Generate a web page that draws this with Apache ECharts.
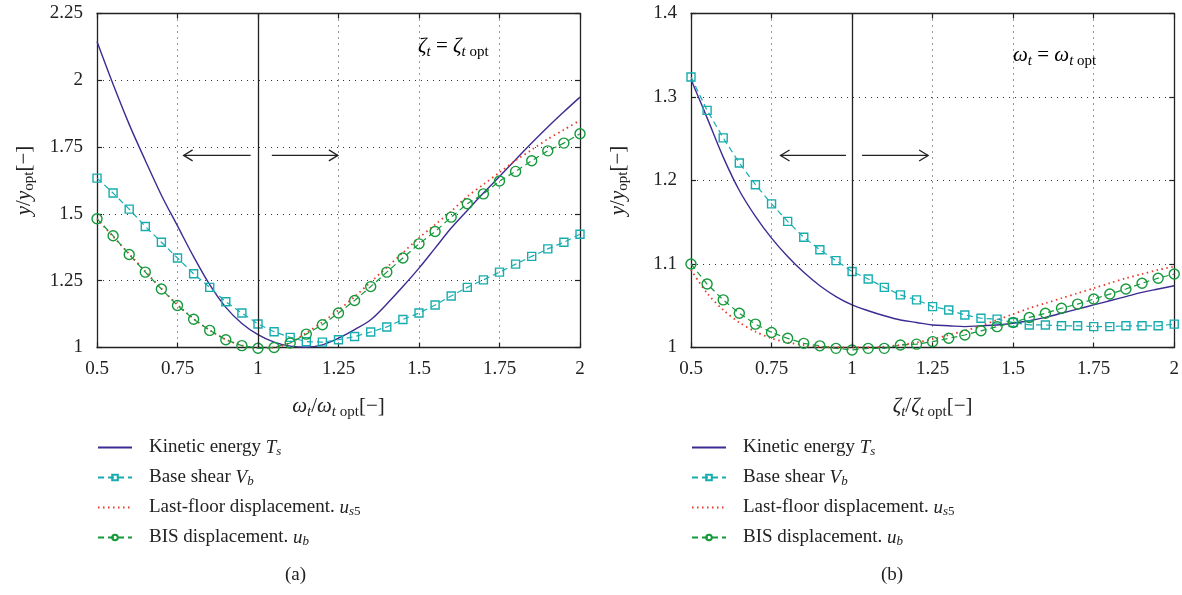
<!DOCTYPE html>
<html><head><meta charset="utf-8">
<script src="https://cdn.jsdelivr.net/npm/echarts@6/dist/echarts.min.js"></script>
<style>html,body{margin:0;padding:0;background:#fff}#c{width:1182px;height:595px}</style>
</head><body><div id="c"></div>
<script>
// x values (ratio to optimum), shared by both panels
const xs = [0.5,0.55,0.6,0.65,0.7,0.75,0.8,0.85,0.9,0.95,1.0,1.05,1.1,1.15,1.2,1.25,1.3,1.35,1.4,1.45,1.5,1.55,1.6,1.65,1.7,1.75,1.8,1.85,1.9,1.95,2.0];

// Panel (a): zeta_t = zeta_t,opt, x = omega_t/omega_t,opt
const aKinetic = [2.145,1.985,1.835,1.70,1.57,1.455,1.34,1.235,1.15,1.09,1.048,1.02,1.005,1.001,1.01,1.035,1.067,1.104,1.163,1.228,1.297,1.372,1.447,1.513,1.578,1.64,1.703,1.765,1.825,1.882,1.937];
const aBaseShear = [1.634,1.578,1.518,1.453,1.394,1.335,1.276,1.225,1.171,1.129,1.088,1.059,1.038,1.022,1.020,1.029,1.041,1.058,1.077,1.105,1.129,1.159,1.193,1.225,1.253,1.282,1.312,1.341,1.369,1.394,1.424];
const aLastFloor = [1.482,1.415,1.35,1.285,1.22,1.16,1.108,1.065,1.03,1.008,0.998,1.0,1.018,1.055,1.095,1.14,1.19,1.245,1.30,1.355,1.41,1.46,1.51,1.565,1.61,1.655,1.70,1.74,1.78,1.815,1.85];
const aBIS = [1.482,1.418,1.348,1.282,1.219,1.157,1.106,1.064,1.029,1.007,0.997,1.0,1.017,1.05,1.085,1.129,1.176,1.228,1.282,1.335,1.388,1.434,1.488,1.538,1.575,1.623,1.659,1.699,1.736,1.765,1.800];

// Panel (b): omega_t = omega_t,opt, x = zeta_t/zeta_t,opt
const bKinetic = [1.321,1.275,1.228,1.188,1.157,1.131,1.109,1.09,1.074,1.061,1.051,1.044,1.038,1.033,1.03,1.027,1.026,1.025,1.026,1.027,1.029,1.032,1.036,1.041,1.046,1.051,1.056,1.061,1.066,1.07,1.074];
const bBaseShear = [1.324,1.284,1.251,1.221,1.195,1.172,1.151,1.132,1.117,1.104,1.091,1.082,1.072,1.063,1.057,1.049,1.045,1.039,1.035,1.034,1.030,1.027,1.027,1.026,1.026,1.025,1.025,1.026,1.026,1.026,1.028];
const bLastFloor = [1.093,1.065,1.045,1.030,1.019,1.011,1.006,1.003,1.001,1.000,1.000,1.000,1.001,1.003,1.006,1.010,1.015,1.020,1.026,1.033,1.040,1.047,1.053,1.059,1.065,1.071,1.077,1.083,1.088,1.093,1.097];
const bBIS = [1.100,1.076,1.057,1.041,1.028,1.018,1.011,1.005,1.002,0.999,0.997,0.999,0.999,1.003,1.004,1.007,1.011,1.015,1.020,1.025,1.030,1.036,1.041,1.047,1.052,1.058,1.064,1.070,1.077,1.083,1.088];

const seriesNames = ['Kinetic energy','Base shear','Last-floor displacement','BIS displacement'];
const xTicksA = {min:0.5,max:2,interval:0.25};
const yTicksA = {min:1,max:2.25,interval:0.25};
const xTicksB = {min:0.5,max:2,interval:0.25};
const yTicksB = {min:1,max:1.4,interval:0.1};

const FONT = 'Liberation Serif';
const C_BLUE = '#3b2c93', C_TEAL = '#17adb0', C_RED = '#e8392b', C_GREEN = '#15993b';
const INK = '#222';

function mkRich(fs, ss, lh){
  return {
    n:{fontFamily:FONT,fontSize:fs,color:INK,lineHeight:lh},
    i:{fontFamily:FONT,fontSize:fs,color:INK,fontStyle:'italic',lineHeight:lh},
    sub:{fontFamily:FONT,fontSize:ss,color:INK,fontStyle:'italic',lineHeight:Math.round(ss*0.75),verticalAlign:'bottom'},
    subr:{fontFamily:FONT,fontSize:ss,color:INK,lineHeight:Math.round(ss*0.75),verticalAlign:'bottom'}
  };
}
const richLegend = mkRich(19,13,22);
const richName = mkRich(21,15,26);
const legendLabels = {
  'Kinetic energy':'{n|Kinetic energy }{i|T}{sub|s}',
  'Base shear':'{n|Base shear }{i|V}{sub|b}',
  'Last-floor displacement':'{n|Last-floor displacement. }{i|u}{sub|s}{subr|5}',
  'BIS displacement':'{n|BIS displacement. }{i|u}{sub|b}'
};

function pairs(vals){ return xs.map((x,k)=>[x,vals[k]]); }

function makeSeries(g, kin, vb, us, ub){
  const base = {type:'line', xAxisIndex:2*g, yAxisIndex:2*g, clip:false, animation:false};
  return [
    Object.assign({}, base, {name:seriesNames[0], data:pairs(kin), smooth:0.35, showSymbol:false, symbol:'none',
      itemStyle:{color:C_BLUE}, lineStyle:{color:C_BLUE,width:1.4},
      markLine:{silent:true,symbol:'none',label:{show:false},animation:false,
        lineStyle:{color:INK,type:'solid',width:1.3}, data:[{xAxis:1}]}}),
    Object.assign({}, base, {name:seriesNames[1], data:pairs(vb), symbol:'rect', symbolSize:8,
      itemStyle:{color:'rgba(255,255,255,0)',borderColor:C_TEAL,borderWidth:1.4},
      lineStyle:{color:C_TEAL,width:1.2,type:[6,4]}}),
    Object.assign({}, base, {name:seriesNames[2], data:pairs(us), smooth:0.3, showSymbol:false, symbol:'none',
      itemStyle:{color:C_RED}, lineStyle:{color:C_RED,width:1.8,type:[1.5,3.5]}}),
    Object.assign({}, base, {name:seriesNames[3], data:pairs(ub), symbol:'circle', symbolSize:10,
      itemStyle:{color:'rgba(255,255,255,0)',borderColor:C_GREEN,borderWidth:1.4},
      lineStyle:{color:C_GREEN,width:1.2,type:[6,4]}})
  ];
}

function xAxes(g, t, nameRich){
  return [
    {gridIndex:g, type:'value', min:t.min, max:t.max, interval:t.interval, position:'bottom',
      axisLine:{lineStyle:{color:INK,width:1.3}}, axisTick:{inside:true,length:5,lineStyle:{color:INK,width:1.2}},
      axisLabel:{margin:12,fontFamily:FONT,fontSize:19,color:INK},
      splitLine:{show:true,lineStyle:{color:'#333',type:[1,5],width:1}},
      name:nameRich, nameLocation:'middle', nameGap:46, nameTextStyle:{rich:richName}},
    {gridIndex:g, type:'value', min:t.min, max:t.max, interval:t.interval, position:'top',
      axisLine:{lineStyle:{color:INK,width:1.3}}, axisTick:{inside:true,length:5,lineStyle:{color:INK,width:1.2}},
      axisLabel:{show:false}, splitLine:{show:false}}
  ];
}
function yAxes(g, t){
  return [
    {gridIndex:g, type:'value', min:t.min, max:t.max, interval:t.interval, position:'left',
      axisLine:{lineStyle:{color:INK,width:1.3}}, axisTick:{inside:true,length:5,lineStyle:{color:INK,width:1.2}},
      axisLabel:{margin:14,fontFamily:FONT,fontSize:19,color:INK},
      splitLine:{show:true,lineStyle:{color:'#333',type:[1,5],width:1}},
      name:'{i|y}{n|/}{i|y}{subr|opt}{n|[−]}', nameLocation:'middle', nameGap:60, nameRotate:90,
      nameTextStyle:{rich:richName}},
    {gridIndex:g, type:'value', min:t.min, max:t.max, interval:t.interval, position:'right',
      axisLine:{lineStyle:{color:INK,width:1.3}}, axisTick:{inside:true,length:5,lineStyle:{color:INK,width:1.2}},
      axisLabel:{show:false}, splitLine:{show:false}}
  ];
}

function legendFor(left){
  const hide = {color:'rgba(0,0,0,0)',borderColor:'rgba(0,0,0,0)',opacity:0};
  return {orient:'vertical', left:left, top:438, padding:0, itemWidth:34, itemHeight:7, itemGap:9.5,
    selectedMode:false,
    data:[{name:seriesNames[0],itemStyle:hide},{name:seriesNames[1]},{name:seriesNames[2],itemStyle:hide},{name:seriesNames[3]}],
    formatter:(n)=>legendLabels[n],
    textStyle:{rich:richLegend, padding:[0,0,0,12]}};
}

const chart = echarts.init(document.getElementById('c'));
chart.setOption({
  animation:false,
  backgroundColor:'#fff',
  grid:[{left:97,top:13.5,width:483,height:334},{left:691,top:13.5,width:485,height:334}],
  xAxis:[].concat(xAxes(0,xTicksA,'{i|ω}{sub|t}{n|/}{i|ω}{sub|t}{subr| opt}{n|[−]}'),
                  xAxes(1,xTicksB,'{i|ζ}{sub|t}{n|/}{i|ζ}{sub|t}{subr| opt}{n|[−]}')),
  yAxis:[].concat(yAxes(0,yTicksA), yAxes(1,yTicksB)),
  legend:[legendFor(97), legendFor(691)],
  series:[].concat(makeSeries(0,aKinetic,aBaseShear,aLastFloor,aBIS),
                   makeSeries(1,bKinetic,bBaseShear,bLastFloor,bBIS))
});

// annotations: arrows (in data coordinates) and texts
function arrow(g, x0, x1, y){
  const p0 = chart.convertToPixel({gridIndex:g},[x0,y]);
  const p1 = chart.convertToPixel({gridIndex:g},[x1,y]);
  const dir = Math.sign(p1[0]-p0[0]);
  const L = 9, W = 5.5;
  return [
    {type:'line', shape:{x1:p0[0],y1:p0[1],x2:p1[0],y2:p1[1]}, style:{stroke:INK,lineWidth:1.3}, silent:true},
    {type:'polyline', shape:{points:[[p1[0]-dir*L,p1[1]-W],[p1[0],p1[1]],[p1[0]-dir*L,p1[1]+W]]},
      style:{stroke:INK,lineWidth:1.3,fill:null}, silent:true}
  ];
}
const g = [].concat(
  arrow(0,0.977,0.769,1.719), arrow(0,1.043,1.248,1.719),
  arrow(1,0.981,0.778,1.23), arrow(1,1.031,1.236,1.23),
  [
    {type:'text', left:418, top:36, silent:true,
      style:{text:'{i|ζ}{sub|t}{n| = }{i|ζ}{sub|t}{subr| opt}', rich:richName}},
    {type:'text', left:1013, top:45, silent:true,
      style:{text:'{i|ω}{sub|t}{n| = }{i|ω}{sub|t}{subr| opt}', rich:richName}},
    {type:'text', left:285, top:566, silent:true,
      style:{text:'(a)', font:'19px "Liberation Serif"', fill:INK}},
    {type:'text', left:881, top:566, silent:true,
      style:{text:'(b)', font:'19px "Liberation Serif"', fill:INK}}
  ]);
chart.setOption({graphic:g});
</script></body></html>
